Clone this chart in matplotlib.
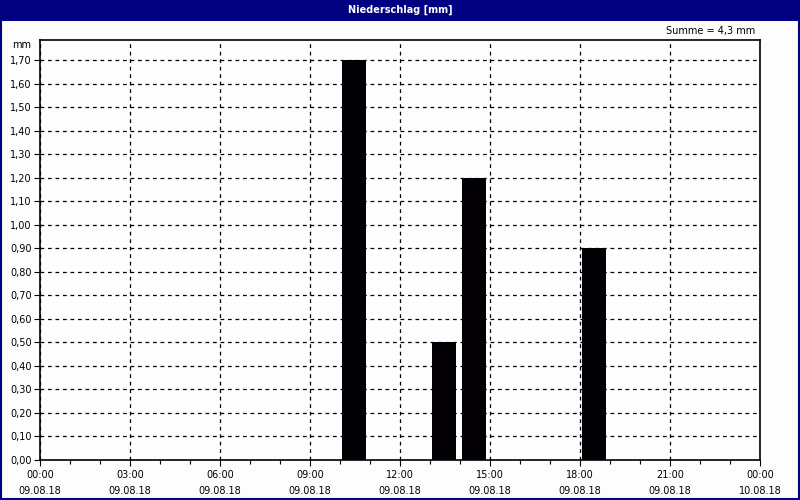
import matplotlib
matplotlib.use("Agg")
import matplotlib.pyplot as plt
from matplotlib.patches import Rectangle
from matplotlib.ticker import MultipleLocator

# precipitation per hour (start hour on 09.08.18), mm
hours = [10, 13, 14, 18]
rain = [1.70, 0.50, 1.20, 0.90]
xticks = [0, 3, 6, 9, 12, 15, 18, 21, 24]
xlabels = ["00:00\n09.08.18", "03:00\n09.08.18", "06:00\n09.08.18", "09:00\n09.08.18",
           "12:00\n09.08.18", "15:00\n09.08.18", "18:00\n09.08.18", "21:00\n09.08.18",
           "00:00\n10.08.18"]
yticks = [i / 10 for i in range(18)]
total = sum(rain)

NAVY = "#000080"
FS = 7

fig = plt.figure(figsize=(8, 5), dpi=100, facecolor="#fcfdfc")
ax = fig.add_axes([40 / 800, 40 / 500, 720 / 800, 420 / 500])
ax.set_facecolor("#fcfdfc")

ax.bar([h + 0.47 for h in hours], rain, width=0.8, color="#030005", zorder=3)

ax.set_xlim(0, 24)
ax.set_ylim(0, 1.787)
ax.set_xticks(xticks)
ax.set_xticklabels(xlabels, fontsize=FS, linespacing=1.75)
ax.xaxis.set_minor_locator(MultipleLocator(1))
ax.set_yticks(yticks)
ax.set_yticklabels([f"{v:.2f}".replace(".", ",") for v in yticks], fontsize=FS)
ax.tick_params(axis="both", direction="out", length=4, width=0.8, color="black")
ax.tick_params(axis="x", which="minor", length=3, width=0.8)
ax.tick_params(axis="x", pad=3)
ax.tick_params(axis="y", pad=2)
ax.grid(True, which="major", color="black", ls=(0, (3, 3)), lw=0.9, zorder=1)
for s in ax.spines.values():
    s.set_color("black")
    s.set_linewidth(1.2)

# title bar and frame
fig.patches.append(Rectangle((0, 1 - 21 / 500), 1, 21 / 500, transform=fig.transFigure,
                             facecolor=NAVY, edgecolor="none", zorder=0))
fig.patches.append(Rectangle((0.001, 0.002), 0.998, 0.996, transform=fig.transFigure,
                             facecolor="none", edgecolor=NAVY, lw=1.5, zorder=5))
fig.text(0.5, 1 - 10 / 500, "Niederschlag [mm]", color="white", fontsize=FS,
         fontweight="bold", ha="center", va="center")
fig.text(755 / 800, 1 - 31 / 500, f"Summe = {total:.1f} mm".replace(".", ","),
         fontsize=FS, ha="right", va="center")
fig.text(31 / 800, 1 - 45 / 500, "mm", fontsize=FS, ha="right", va="center")

fig.savefig("out.png", dpi=100, facecolor=fig.get_facecolor())
